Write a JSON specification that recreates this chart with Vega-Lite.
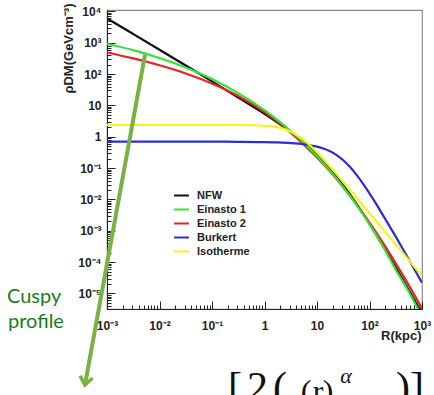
{
  "$schema": "https://vega.github.io/schema/vega-lite/v6.json",
  "width": 315,
  "height": 299,
  "autosize": "none",
  "padding": {"left": 107, "top": 10, "right": 12, "bottom": 86},
  "background": "white",
  "config": {"view": {"stroke": "#8a8a8a", "strokeWidth": 1.2}, "font": "Liberation Sans"},
  "datasets": {
    "curves": [
      {"profile": "NFW", "R": 0.001, "rho": 6000},
      {"profile": "NFW", "R": 0.00316, "rho": 1897},
      {"profile": "NFW", "R": 0.01, "rho": 598},
      {"profile": "NFW", "R": 0.0316, "rho": 188},
      {"profile": "NFW", "R": 0.1, "rho": 58.7},
      {"profile": "NFW", "R": 0.316, "rho": 17.8},
      {"profile": "NFW", "R": 1, "rho": 5.44},
      {"profile": "NFW", "R": 1.78, "rho": 2.84},
      {"profile": "NFW", "R": 3.16, "rho": 1.41},
      {"profile": "NFW", "R": 5.62, "rho": 0.65},
      {"profile": "NFW", "R": 10, "rho": 0.267},
      {"profile": "NFW", "R": 17.8, "rho": 0.0946},
      {"profile": "NFW", "R": 31.6, "rho": 0.0284},
      {"profile": "NFW", "R": 56.2, "rho": 0.00735},
      {"profile": "NFW", "R": 100, "rho": 0.00167},
      {"profile": "NFW", "R": 178, "rho": 0.000345},
      {"profile": "NFW", "R": 316, "rho": 0.0000671},
      {"profile": "NFW", "R": 562, "rho": 0.0000126},
      {"profile": "NFW", "R": 1000, "rho": 0.00000231},
      {"profile": "Einasto 2", "R": 0.001, "rho": 490},
      {"profile": "Einasto 2", "R": 0.00316, "rho": 316},
      {"profile": "Einasto 2", "R": 0.01, "rho": 191},
      {"profile": "Einasto 2", "R": 0.0316, "rho": 105},
      {"profile": "Einasto 2", "R": 0.1, "rho": 50.1},
      {"profile": "Einasto 2", "R": 0.316, "rho": 20.0},
      {"profile": "Einasto 2", "R": 1, "rho": 6.17},
      {"profile": "Einasto 2", "R": 1.78, "rho": 3.02},
      {"profile": "Einasto 2", "R": 3.16, "rho": 1.35},
      {"profile": "Einasto 2", "R": 5.62, "rho": 0.562},
      {"profile": "Einasto 2", "R": 10, "rho": 0.219},
      {"profile": "Einasto 2", "R": 17.8, "rho": 0.0776},
      {"profile": "Einasto 2", "R": 31.6, "rho": 0.0245},
      {"profile": "Einasto 2", "R": 56.2, "rho": 0.00708},
      {"profile": "Einasto 2", "R": 100, "rho": 0.00182},
      {"profile": "Einasto 2", "R": 178, "rho": 0.000427},
      {"profile": "Einasto 2", "R": 316, "rho": 0.0000912},
      {"profile": "Einasto 2", "R": 562, "rho": 0.0000182},
      {"profile": "Einasto 2", "R": 1000, "rho": 0.00000331},
      {"profile": "Einasto 1", "R": 0.001, "rho": 931},
      {"profile": "Einasto 1", "R": 0.00316, "rho": 581},
      {"profile": "Einasto 1", "R": 0.01, "rho": 327},
      {"profile": "Einasto 1", "R": 0.0316, "rho": 163},
      {"profile": "Einasto 1", "R": 0.1, "rho": 69.7},
      {"profile": "Einasto 1", "R": 0.316, "rho": 24.8},
      {"profile": "Einasto 1", "R": 1, "rho": 7.06},
      {"profile": "Einasto 1", "R": 1.78, "rho": 3.41},
      {"profile": "Einasto 1", "R": 3.16, "rho": 1.53},
      {"profile": "Einasto 1", "R": 5.62, "rho": 0.632},
      {"profile": "Einasto 1", "R": 10, "rho": 0.239},
      {"profile": "Einasto 1", "R": 17.8, "rho": 0.0815},
      {"profile": "Einasto 1", "R": 31.6, "rho": 0.0249},
      {"profile": "Einasto 1", "R": 56.2, "rho": 0.00673},
      {"profile": "Einasto 1", "R": 100, "rho": 0.0016},
      {"profile": "Einasto 1", "R": 178, "rho": 0.000326},
      {"profile": "Einasto 1", "R": 316, "rho": 0.0000575},
      {"profile": "Einasto 1", "R": 562, "rho": 0.0000112},
      {"profile": "Einasto 1", "R": 1000, "rho": 0.00000178},
      {"profile": "Burkert", "R": 0.001, "rho": 0.7},
      {"profile": "Burkert", "R": 0.00316, "rho": 0.7},
      {"profile": "Burkert", "R": 0.01, "rho": 0.7},
      {"profile": "Burkert", "R": 0.0316, "rho": 0.7},
      {"profile": "Burkert", "R": 0.1, "rho": 0.698},
      {"profile": "Burkert", "R": 0.316, "rho": 0.693},
      {"profile": "Burkert", "R": 1, "rho": 0.678},
      {"profile": "Burkert", "R": 1.78, "rho": 0.661},
      {"profile": "Burkert", "R": 3.16, "rho": 0.631},
      {"profile": "Burkert", "R": 5.62, "rho": 0.578},
      {"profile": "Burkert", "R": 10, "rho": 0.485},
      {"profile": "Burkert", "R": 13.3, "rho": 0.421},
      {"profile": "Burkert", "R": 17.8, "rho": 0.343},
      {"profile": "Burkert", "R": 23.7, "rho": 0.259},
      {"profile": "Burkert", "R": 31.6, "rho": 0.178},
      {"profile": "Burkert", "R": 42.2, "rho": 0.11},
      {"profile": "Burkert", "R": 56.2, "rho": 0.0619},
      {"profile": "Burkert", "R": 75.0, "rho": 0.0322},
      {"profile": "Burkert", "R": 100, "rho": 0.0157},
      {"profile": "Burkert", "R": 133, "rho": 0.00737},
      {"profile": "Burkert", "R": 178, "rho": 0.00328},
      {"profile": "Burkert", "R": 316, "rho": 0.000652},
      {"profile": "Burkert", "R": 562, "rho": 0.000122},
      {"profile": "Burkert", "R": 1000, "rho": 0.0000222},
      {"profile": "Isotherme", "R": 0.001, "rho": 2.4},
      {"profile": "Isotherme", "R": 0.00316, "rho": 2.4},
      {"profile": "Isotherme", "R": 0.01, "rho": 2.4},
      {"profile": "Isotherme", "R": 0.0316, "rho": 2.4},
      {"profile": "Isotherme", "R": 0.1, "rho": 2.4},
      {"profile": "Isotherme", "R": 0.316, "rho": 2.38},
      {"profile": "Isotherme", "R": 1, "rho": 2.25},
      {"profile": "Isotherme", "R": 1.78, "rho": 1.99},
      {"profile": "Isotherme", "R": 2.37, "rho": 1.75},
      {"profile": "Isotherme", "R": 3.16, "rho": 1.45},
      {"profile": "Isotherme", "R": 4.22, "rho": 1.106},
      {"profile": "Isotherme", "R": 5.62, "rho": 0.78},
      {"profile": "Isotherme", "R": 7.5, "rho": 0.511},
      {"profile": "Isotherme", "R": 10, "rho": 0.317},
      {"profile": "Isotherme", "R": 13.3, "rho": 0.189},
      {"profile": "Isotherme", "R": 17.8, "rho": 0.11},
      {"profile": "Isotherme", "R": 31.6, "rho": 0.036},
      {"profile": "Isotherme", "R": 56.2, "rho": 0.0115},
      {"profile": "Isotherme", "R": 100, "rho": 0.00365},
      {"profile": "Isotherme", "R": 178, "rho": 0.00115},
      {"profile": "Isotherme", "R": 316, "rho": 0.000365},
      {"profile": "Isotherme", "R": 562, "rho": 0.000115},
      {"profile": "Isotherme", "R": 1000, "rho": 0.0000365}
    ],
    "arrow": [{"R": 0.0053, "rho": 417, "R2": 0.00038, "rho2": 1.2e-8}],
    "notes": [
      {"text": "Cuspy", "R": 0.00001245, "rho": 0.000005},
      {"text": "profile", "R": 0.000013, "rho": 8.2e-7}
    ],
    "formula": [
      {"part": "outer", "text": "[", "R": 0.274, "rho": 3.67e-9},
      {"part": "outer", "text": "2", "R": 0.736, "rho": 3.67e-9},
      {"part": "outer", "text": "(", "R": 1.97, "rho": 3.67e-9},
      {"part": "outer", "text": ")", "R": 434, "rho": 3.67e-9},
      {"part": "outer", "text": "]", "R": 803, "rho": 3.67e-9},
      {"part": "inner", "text": "(", "R": 6.17, "rho": 3.42e-9},
      {"part": "inner", "text": "r", "R": 10.45, "rho": 3.42e-9},
      {"part": "inner", "text": ")", "R": 16.2, "rho": 3.42e-9},
      {"part": "exponent", "text": "α", "R": 35.7, "rho": 1.38e-8}
    ]
  },
  "layer": [
    {
      "data": {"name": "curves"},
      "mark": {"type": "line", "strokeWidth": 2.2, "clip": true, "interpolate": "monotone"},
      "encoding": {
        "x": {
          "field": "R", "type": "quantitative",
          "scale": {"type": "log", "domain": [0.001, 1000], "nice": false},
          "axis": {
            "values": [0.001,0.002,0.003,0.004,0.005,0.006,0.007,0.008,0.009,0.01,0.02,0.03,0.04,0.05,0.06,0.07,0.08,0.09,0.1,0.2,0.3,0.4,0.5,0.6,0.7,0.8,0.9,1,2,3,4,5,6,7,8,9,10,20,30,40,50,60,70,80,90,100,200,300,400,500,600,700,800,900,1000],
            "labelExpr": "abs(log(datum.value)/LN10-round(log(datum.value)/LN10))<0.001 ? ['10⁻⁵','10⁻⁴','10⁻³','10⁻²','10⁻¹','1','10','10²','10³','10⁴'][round(log(datum.value)/LN10)+5] : ''",
            "tickSize": {"condition": {"test": "abs(log(datum.value)/LN10-round(log(datum.value)/LN10))<0.001", "value": -8}, "value": -4},
            "labelPadding": 19,
            "labelFont": "Liberation Sans", "labelFontWeight": "bold", "labelFontSize": 12, "labelColor": "#222",
            "labelFlush": false, "labelOverlap": false,
            "domainColor": "#222", "tickColor": "#222", "grid": false,
            "title": "R(kpc)", "titleFont": "Liberation Sans", "titleFontWeight": "bold", "titleFontSize": 13, "titleColor": "#222",
            "titleAnchor": "end", "titleAlign": "right", "titleX": 314, "titleY": 30, "titleBaseline": "alphabetic"
          }
        },
        "y": {
          "field": "rho", "type": "quantitative",
          "scale": {"type": "log", "domain": [0.0000032, 11100], "nice": false},
          "axis": {
            "values": [0.000004,0.000005,0.000006,0.000007,0.000008,0.000009,0.00001,0.00002,0.00003,0.00004,0.00005,0.00006,0.00007,0.00008,0.00009,0.0001,0.0002,0.0003,0.0004,0.0005,0.0006,0.0007,0.0008,0.0009,0.001,0.002,0.003,0.004,0.005,0.006,0.007,0.008,0.009,0.01,0.02,0.03,0.04,0.05,0.06,0.07,0.08,0.09,0.1,0.2,0.3,0.4,0.5,0.6,0.7,0.8,0.9,1,2,3,4,5,6,7,8,9,10,20,30,40,50,60,70,80,90,100,200,300,400,500,600,700,800,900,1000,2000,3000,4000,5000,6000,7000,8000,9000,10000],
            "labelExpr": "abs(log(datum.value)/LN10-round(log(datum.value)/LN10))<0.001 ? ['10⁻⁵','10⁻⁴','10⁻³','10⁻²','10⁻¹','1','10','10²','10³','10⁴'][round(log(datum.value)/LN10)+5] : ''",
            "tickSize": {"condition": {"test": "abs(log(datum.value)/LN10-round(log(datum.value)/LN10))<0.001", "value": -8}, "value": -4},
            "labelPadding": 14,
            "labelFont": "Liberation Sans", "labelFontWeight": "bold", "labelFontSize": 12, "labelColor": "#222",
            "labelFlush": false, "labelOverlap": false,
            "domainColor": "#222", "tickColor": "#222", "grid": false,
            "title": "ρDM(GeVcm⁻³)", "titleFont": "Liberation Sans", "titleFontWeight": "bold", "titleFontSize": 13, "titleColor": "#222",
            "titleAnchor": "end", "titleAngle": 270, "titleAlign": "right", "titleBaseline": "middle", "titleX": -39, "titleY": -7
          }
        },
        "color": {
          "field": "profile", "type": "nominal",
          "scale": {"domain": ["NFW", "Einasto 1", "Einasto 2", "Burkert", "Isotherme"], "range": ["#111111", "#33e533", "#e82222", "#2a2ae0", "#f4f41c"]},
          "legend": {
            "orient": "none", "legendX": 66, "legendY": 177, "title": null,
            "symbolType": "stroke", "symbolStrokeWidth": 2, "symbolSize": 220,
            "labelFont": "Liberation Sans", "labelFontWeight": "bold", "labelFontSize": 11, "labelColor": "#222",
            "labelOffset": 7, "rowPadding": 0, "padding": 0
          }
        }
      }
    },
    {
      "data": {"name": "arrow"},
      "mark": {"type": "rule", "strokeWidth": 4, "color": "#79b143"},
      "encoding": {
        "x": {"field": "R", "type": "quantitative"},
        "y": {"field": "rho", "type": "quantitative"},
        "x2": {"field": "R2"},
        "y2": {"field": "rho2"}
      }
    },
    {
      "data": {"name": "arrow"},
      "mark": {"type": "point", "shape": "M-1,-1.3L0,0L1,-1.3", "filled": false, "strokeWidth": 3.5, "color": "#79b143", "size": 160, "angle": 10, "opacity": 1},
      "encoding": {
        "x": {"field": "R2", "type": "quantitative"},
        "y": {"field": "rho2", "type": "quantitative"}
      }
    },
    {
      "data": {"name": "notes"},
      "mark": {"type": "text", "align": "left", "baseline": "alphabetic", "font": "Lato", "fontSize": 20, "color": "#1a7d1a"},
      "encoding": {
        "x": {"field": "R", "type": "quantitative"},
        "y": {"field": "rho", "type": "quantitative"},
        "text": {"field": "text"}
      }
    },
    {
      "data": {"name": "formula"},
      "transform": [{"filter": "datum.part == 'outer'"}],
      "mark": {"type": "text", "align": "center", "baseline": "alphabetic", "font": "Liberation Serif", "fontSize": 42, "color": "#111"},
      "encoding": {
        "x": {"field": "R", "type": "quantitative"},
        "y": {"field": "rho", "type": "quantitative"},
        "text": {"field": "text"}
      }
    },
    {
      "data": {"name": "formula"},
      "transform": [{"filter": "datum.part == 'inner'"}],
      "mark": {"type": "text", "align": "center", "baseline": "alphabetic", "font": "Liberation Serif", "fontSize": 32, "color": "#111"},
      "encoding": {
        "x": {"field": "R", "type": "quantitative"},
        "y": {"field": "rho", "type": "quantitative"},
        "text": {"field": "text"}
      }
    },
    {
      "data": {"name": "formula"},
      "transform": [{"filter": "datum.part == 'exponent'"}],
      "mark": {"type": "text", "align": "center", "baseline": "alphabetic", "font": "Liberation Serif", "fontStyle": "italic", "fontSize": 22, "color": "#111"},
      "encoding": {
        "x": {"field": "R", "type": "quantitative"},
        "y": {"field": "rho", "type": "quantitative"},
        "text": {"field": "text"}
      }
    }
  ]
}
